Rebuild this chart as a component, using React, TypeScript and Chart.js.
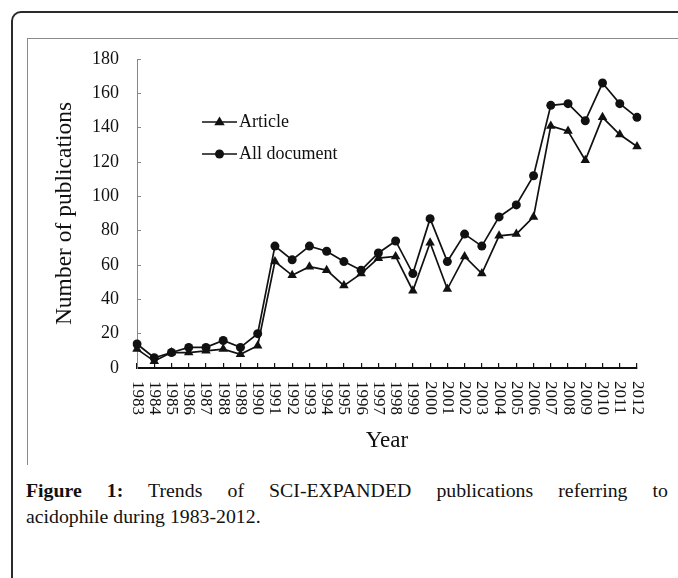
import React, { useEffect, useRef } from "react";
import { Chart, registerables } from "chart.js";

Chart.register(...registerables);

const years: string[] = [
  "1983", "1984", "1985", "1986", "1987", "1988", "1989", "1990", "1991", "1992",
  "1993", "1994", "1995", "1996", "1997", "1998", "1999", "2000", "2001", "2002",
  "2003", "2004", "2005", "2006", "2007", "2008", "2009", "2010", "2011", "2012",
];

const articleValues: number[] = [
  11, 4, 9, 9, 10, 11, 8, 13, 62, 54,
  59, 57, 48, 55, 64, 65, 45, 73, 46, 65,
  55, 77, 78, 88, 141, 138, 121, 146, 136, 129,
];

const allDocumentValues: number[] = [
  14, 6, 9, 12, 12, 16, 12, 20, 71, 63,
  71, 68, 62, 57, 67, 74, 55, 87, 62, 78,
  71, 88, 95, 112, 153, 154, 144, 166, 154, 146,
];

const yTickValues: number[] = [0, 20, 40, 60, 80, 100, 120, 140, 160, 180];

const seriesNames: string[] = ["Article", "All document"];

const SERIF = "'Liberation Serif', 'Times New Roman', serif";

const rotatedXLabels = {
  id: "rotatedXLabels",
  afterDraw(chart: any) {
    const xs = chart.scales.x;
    const ctx = chart.ctx;
    ctx.save();
    ctx.fillStyle = "#111";
    ctx.font = `17px ${SERIF}`;
    ctx.textAlign = "left";
    ctx.textBaseline = "middle";
    xs.ticks.forEach((_t: any, i: number) => {
      const x = xs.getPixelForTick(i);
      ctx.save();
      ctx.translate(x, xs.top + 13);
      ctx.rotate(Math.PI / 2);
      ctx.fillText(String(chart.data.labels[i]), 0, 0);
      ctx.restore();
    });
    ctx.restore();
  },
};

const innerLegend = {
  id: "innerLegend",
  afterDatasetsDraw(chart: any) {
    const ctx = chart.ctx;
    const area = chart.chartArea;
    const x0 = area.left + 65;
    const x1 = x0 + 35;
    const rows = [area.top + 63, area.top + 95];
    ctx.save();
    chart.data.datasets.forEach((ds: any, i: number) => {
      const y = rows[i];
      ctx.strokeStyle = "#111";
      ctx.lineWidth = 1.7;
      ctx.beginPath();
      ctx.moveTo(x0, y);
      ctx.lineTo(x1, y);
      ctx.stroke();
      const cx = (x0 + x1) / 2;
      ctx.fillStyle = "#111";
      ctx.beginPath();
      if (ds.pointStyle === "triangle") {
        const r = 5.5;
        ctx.moveTo(cx, y - r);
        ctx.lineTo(cx + r * 0.95, y + r * 0.6);
        ctx.lineTo(cx - r * 0.95, y + r * 0.6);
        ctx.closePath();
      } else {
        ctx.arc(cx, y, 4.5, 0, Math.PI * 2);
      }
      ctx.fill();
      ctx.font = `18px ${SERIF}`;
      ctx.textAlign = "left";
      ctx.textBaseline = "middle";
      ctx.fillText(ds.label, x1 + 2, y);
    });
    ctx.restore();
  },
};

function LineChart() {
  const canvasRef = useRef<HTMLCanvasElement | null>(null);

  useEffect(() => {
    if (!canvasRef.current) return;
    const chart = new Chart(canvasRef.current, {
      type: "line",
      data: {
        labels: years,
        datasets: [
          {
            label: seriesNames[0],
            data: articleValues,
            borderColor: "#111",
            backgroundColor: "#111",
            borderWidth: 1.7,
            pointStyle: "triangle",
            pointRadius: 5.5,
            pointBackgroundColor: "#111",
            pointBorderColor: "#111",
            pointBorderWidth: 0,
            tension: 0,
            fill: false,
          },
          {
            label: seriesNames[1],
            data: allDocumentValues,
            borderColor: "#111",
            backgroundColor: "#111",
            borderWidth: 1.7,
            pointStyle: "circle",
            pointRadius: 4.5,
            pointBackgroundColor: "#111",
            pointBorderColor: "#111",
            pointBorderWidth: 0,
            tension: 0,
            fill: false,
          },
        ],
      },
      options: {
        responsive: true,
        maintainAspectRatio: false,
        animation: false,
        layout: { padding: { top: 20, right: 41, left: 0, bottom: 0 } },
        plugins: {
          legend: { display: false },
          tooltip: { enabled: false },
        },
        scales: {
          x: {
            type: "category",
            offset: false,
            grid: {
              drawOnChartArea: false,
              drawTicks: true,
              tickLength: -5,
              color: "#111",
              lineWidth: 1.2,
            },
            border: { display: true, color: "#111", width: 2 },
            ticks: { display: false },
            title: {
              display: true,
              text: "Year",
              color: "#111",
              font: { family: SERIF, size: 23 },
              padding: { top: 0, bottom: 10 },
            },
            afterFit: (s: any) => {
              s.height = 97;
              s.paddingLeft = 0;
              s.paddingRight = 0;
            },
          },
          y: {
            min: 0,
            max: 180,
            afterBuildTicks: (s: any) => {
              s.ticks = yTickValues.map((v) => ({ value: v }));
            },
            grid: {
              drawOnChartArea: false,
              drawTicks: true,
              tickLength: -4,
              color: "#888",
              lineWidth: 1,
            },
            border: { display: true, color: "#888", width: 1 },
            ticks: {
              color: "#111",
              padding: 22,
              font: { family: SERIF, size: 18 },
            },
            title: {
              display: true,
              text: "Number of publications",
              color: "#111",
              font: { family: SERIF, size: 23.5 },
              padding: { top: 23, bottom: 0 },
            },
            afterFit: (s: any) => {
              s.width = 109;
              s.paddingTop = 0;
              s.paddingBottom = 0;
            },
          },
        },
      },
      plugins: [rotatedXLabels, innerLegend],
    });
    return () => chart.destroy();
  }, []);

  return <canvas ref={canvasRef} />;
}

export default function App() {
  return (
    <div
      style={{
        position: "fixed",
        left: 0,
        top: 0,
        width: 678,
        height: 578,
        background: "#fff",
        overflow: "hidden",
      }}
    >
      <div
        style={{
          position: "absolute",
          left: 11,
          top: 11,
          width: 720,
          height: 620,
          border: "2px solid #2a2a2a",
          borderRadius: 10,
          boxSizing: "border-box",
        }}
      />
      <div
        style={{
          position: "absolute",
          left: 27,
          top: 38,
          width: 700,
          height: 427,
          borderTop: "1px solid #8a8a8a",
          borderLeft: "1px solid #8a8a8a",
          boxSizing: "border-box",
        }}
      />
      <div
        style={{
          position: "absolute",
          left: 28,
          top: 39,
          width: 650,
          height: 426,
        }}
      >
        <LineChart />
      </div>
      <div
        style={{
          position: "absolute",
          left: 26,
          top: 477,
          width: 642,
          fontFamily: SERIF,
          fontSize: 19.8,
          lineHeight: "26px",
          color: "#111",
        }}
      >
        <div style={{ textAlign: "justify", textAlignLast: "justify" as any }}>
          <b>Figure 1:</b> Trends of SCI-EXPANDED publications referring to
        </div>
        <div>acidophile during 1983-2012.</div>
      </div>
    </div>
  );
}
